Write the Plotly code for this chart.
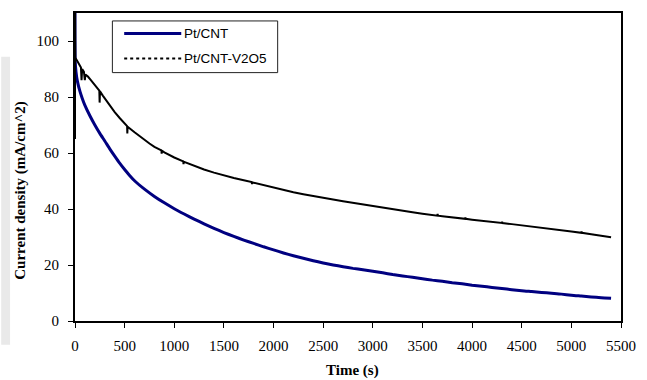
import plotly.graph_objects as go

# ---------------- data ----------------
series_names = ["Pt/CNT", "Pt/CNT-V2O5"]

time_ptcnt = [0, 2, 10, 25, 50, 75, 100, 150, 200, 250, 300, 350, 400, 450, 500, 550,
              600, 700, 800, 900, 1000, 1100, 1200, 1300, 1400, 1500, 1600, 1700,
              1800, 1900, 2000, 2100, 2200, 2300, 2400, 2500, 2600, 2700, 2800,
              2900, 3000, 3100, 3200, 3300, 3400, 3500, 3600, 3700, 3800, 3900,
              4000, 4100, 4200, 4300, 4400, 4500, 4600, 4700, 4800, 4900, 5000,
              5100, 5200, 5300, 5400]
current_ptcnt = [118, 93, 89, 85.5, 82, 79.3, 77, 73.3, 70, 67, 64.3, 61.5, 58.9, 56.4, 54.1, 52.0,
                 50.1, 47.1, 44.5, 42.2, 40.1, 38.2, 36.4, 34.7, 33.1, 31.6, 30.2, 28.9,
                 27.7, 26.5, 25.4, 24.3, 23.3, 22.4, 21.5, 20.7, 20.0, 19.4, 18.8,
                 18.3, 17.8, 17.2, 16.6, 16.1, 15.6, 15.1, 14.6, 14.2, 13.7, 13.3,
                 12.8, 12.4, 12.0, 11.6, 11.2, 10.8, 10.5, 10.2, 9.9, 9.6, 9.2,
                 8.9, 8.6, 8.3, 8.1]

time_v2o5 = [0, 0, 3, 20, 40, 60, 66, 72, 90, 99, 105, 130, 160, 200, 230, 245, 248,
             252, 280, 320, 360, 400, 450, 500, 525, 527, 530, 600, 650, 700, 750, 800,
             870, 873, 876, 900, 950, 1000, 1090, 1093, 1096, 1100, 1200, 1300, 1400,
             1500, 1600, 1700, 1780, 1783, 1786, 1800, 1900, 2000, 2100, 2200, 2300,
             2400, 2500, 2600, 2700, 2800, 2900, 3000, 3100, 3200, 3300, 3400, 3500,
             3600, 3650, 3653, 3656, 3700, 3800, 3900, 3930, 3933, 3936, 4000, 4100,
             4200, 4300, 4303, 4306, 4400, 4500, 4600, 4700, 4800, 4900, 5000, 5100,
             5103, 5106, 5200, 5300, 5400]
current_v2o5 = [65, 118, 94, 93, 91.5, 90.5, 86, 90, 89, 86, 88, 87.3, 86, 84.3,
                83, 82.3, 78, 82, 80.5, 78.5, 76.5, 74.6, 72.5, 70.6, 69.6, 67,
                69.4, 67.4, 66, 64.7, 63.4, 62.2, 60.9, 59.8, 60.8, 60.2, 59.2, 58.4,
                57, 56, 56.9, 56.8, 55.4, 54.1, 53, 52, 51.1, 50.3, 49.6, 48.9, 49.5,
                49.4, 48.5, 47.6, 46.8, 46, 45.3, 44.6, 44, 43.4, 42.8, 42.2, 41.6,
                41, 40.4, 39.8, 39.3, 38.8, 38.3, 37.8, 37.6, 38.2, 37.6, 37.4, 37,
                36.6, 36.5, 37, 36.5, 36.2, 35.8, 35.4, 35, 35.5, 35, 34.6, 34.2,
                33.8, 33.4, 32.9, 32.4, 32, 31.5, 32, 31.5, 31, 30.5, 29.9]

x_ticks = [0, 500, 1000, 1500, 2000, 2500, 3000, 3500, 4000, 4500, 5000, 5500]
y_ticks = [0, 20, 40, 60, 80, 100]

x_title = "Time (s)"
y_title = "Current density (mA/cm^2)"

# ---------------- styles ----------------
colors = ["#000080", "#000000"]
widths = [3, 2]
dashes = ["solid", "dot"]
serif = "Liberation Serif, Times New Roman, serif"
sans = "Liberation Sans, Arial, sans-serif"

fig = go.Figure()
fig.add_trace(go.Scatter(x=time_ptcnt, y=current_ptcnt, mode="lines",
                         name=series_names[0], showlegend=False,
                         line=dict(color=colors[0], width=widths[0], shape="spline",
                                   smoothing=0.6)))
fig.add_trace(go.Scatter(x=time_v2o5, y=current_v2o5, mode="lines",
                         name=series_names[1], showlegend=False,
                         line=dict(color=colors[1], width=widths[1])))

# plot area geometry (pixels) for paper conversions
W, H = 647, 380
ml, mr, mt, mb = 75, 17, 11, 59
pw, ph = W - ml - mr, H - mt - mb

def px(x):
    return (x - ml) / pw

def py(y):
    return (H - mb - y) / ph

shapes = []
# light gray scan band at far left
shapes.append(dict(type="rect", xref="paper", yref="paper",
                   x0=px(0), x1=px(9), y0=py(345), y1=py(55),
                   fillcolor="#e9e9e9", line=dict(width=0), layer="below"))
# legend box
shapes.append(dict(type="rect", xref="paper", yref="paper",
                   x0=px(113), x1=px(281), y0=py(71), y1=py(19),
                   fillcolor="white", line=dict(color="#222222", width=1)))
legend_rows = [31.7, 56.7]
annotations = []
for i, name in enumerate(series_names):
    shapes.append(dict(type="line", xref="paper", yref="paper",
                       x0=px(125), x1=px(183), y0=py(legend_rows[i]), y1=py(legend_rows[i]),
                       line=dict(color=colors[i], width=widths[i] if i == 0 else 2,
                                 dash=dashes[i])))
    annotations.append(dict(xref="paper", yref="paper", x=px(184), y=py(legend_rows[i]),
                            xanchor="left", yanchor="middle", showarrow=False,
                            text=name, font=dict(family=sans, size=13.5, color="black")))

annotations.append(dict(xref="paper", yref="paper", x=px(357), y=py(371),
                        xanchor="center", yanchor="middle", showarrow=False,
                        text="<b>%s</b>" % x_title,
                        font=dict(family=serif, size=15, color="black")))
annotations.append(dict(xref="paper", yref="paper", x=px(20), y=py(190),
                        xanchor="center", yanchor="middle", showarrow=False,
                        textangle=-90, text="<b>%s</b>" % y_title,
                        font=dict(family=serif, size=15, color="black")))

axis_common = dict(showgrid=False, zeroline=False, showline=True, linecolor="black",
                   linewidth=2, mirror=True, ticks="outside", ticklen=5, tickwidth=1,
                   tickcolor="black", tickfont=dict(family=serif, size=15, color="black"))

fig.update_layout(
    width=W, height=H,
    margin=dict(l=ml, r=mr, t=mt, b=mb),
    paper_bgcolor="white", plot_bgcolor="white",
    showlegend=False,
    shapes=shapes, annotations=annotations,
    xaxis=dict(range=[0, 5500], tickmode="array", tickvals=x_ticks,
               ticklabelstandoff=5, **axis_common),
    yaxis=dict(range=[0, 110], tickmode="array", tickvals=y_ticks,
               ticklabelstandoff=6, **axis_common),
)

fig.write_html("out.html", config={"displayModeBar": False},
               post_script="document.body.style.margin='0';document.body.style.overflow='hidden';")
